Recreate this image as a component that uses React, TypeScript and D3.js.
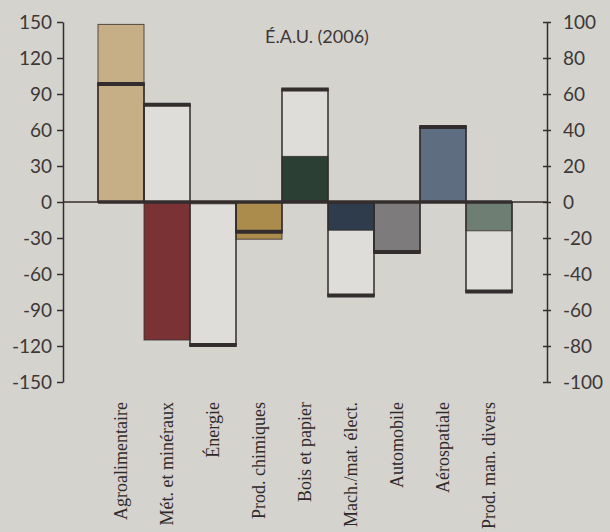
import React, { useRef, useEffect } from 'react';
import * as d3 from 'd3';

// Catégories (axe horizontal)
const categories = [
  'Agroalimentaire',
  'Mét. et minéraux',
  'Énergie',
  'Prod. chimiques',
  'Bois et papier',
  'Mach./mat. élect.',
  'Automobile',
  'Aérospatiale',
  'Prod. man. divers',
];

// Barres pleines (axe de gauche)
const filledValues = [148, -115, -1.5, -31, 38, -23.5, -41.5, 62.5, -24];
// Barres contour, trait épais au bout (axe de droite)
const outlineValues = [65.5, 54, -79.5, -16.5, 62.5, -52, -27.8, 41.7, -49.7];

const fillColors = ['#c6ae86', '#7a3234', '#c98686', '#ab8c4c', '#2c3f34', '#2e3c4c', '#7d7b7b', '#5e6d7f', '#6f7e73'];

const leftTicks = d3.range(-150, 151, 30);
const rightTicks = d3.range(-100, 101, 20);

const title = 'É.A.U. (2006)';

const W = 610;
const H = 532;
const INK = '#332d2d';
const BG = '#d5d3ce';
const PAPER = '#dfddd9';

const App: React.FC = () => {
  const leftRef = useRef<SVGGElement>(null);
  const rightRef = useRef<SVGGElement>(null);

  const margin = { top: 22, bottom: 150, left: 63, right: 63 };
  const yLeft = d3.scaleLinear().domain([-150, 150]).range([H - margin.bottom, margin.top]);
  const yRight = d3.scaleLinear().domain([-100, 100]).range([H - margin.bottom, margin.top]);
  const x = d3.scaleBand().domain(categories).range([98, 512]).padding(0);
  const xLeftAxis = margin.left;
  const xRightAxis = W - margin.right;

  useEffect(() => {
    // le tiret simple comme dans l'original, pas le signe moins typographique
    const fmt = (d: d3.NumberValue) => String(d);
    if (leftRef.current) {
      const g = d3.select(leftRef.current);
      g.selectAll('*').remove();
      g.call(d3.axisLeft(yLeft).tickValues(leftTicks).tickFormat(fmt).tickSize(6).tickSizeOuter(0).tickPadding(5));
      g.select('.domain').attr('stroke', INK).attr('stroke-width', 1.5);
      g.selectAll('.tick line').attr('stroke', INK).attr('stroke-width', 1.5);
      g.selectAll('.tick text')
        .attr('fill', '#3d3838')
        .style('font-family', 'Lato, sans-serif')
        .style('font-size', '19px');
    }
    if (rightRef.current) {
      const g = d3.select(rightRef.current);
      g.selectAll('*').remove();
      g.call(d3.axisRight(yRight).tickValues(rightTicks).tickFormat(fmt).tickSize(4).tickSizeOuter(0).tickPadding(12));
      g.select('.domain').attr('stroke', INK).attr('stroke-width', 1.5);
      g.selectAll('.tick line').attr('x1', -4).attr('stroke', INK).attr('stroke-width', 1.5);
      g.selectAll('.tick text')
        .attr('fill', '#3d3838')
        .style('font-family', 'Lato, sans-serif')
        .style('font-size', '19px');
    }
  }, []);

  const bw = x.bandwidth();
  const zero = yLeft(0);

  return (
    <>
      <style>{'body{margin:0}'}</style>
      <svg width={W} height={H} style={{ display: 'block' }}>
        <rect width={W} height={H} fill={BG} />

        {/* fond clair des barres contour */}
        {categories.map((c, i) => {
          const v = yRight(outlineValues[i]);
          return (
            <rect key={'bg' + c} x={x(c)} y={Math.min(v, zero)} width={bw} height={Math.abs(v - zero)} fill={PAPER} />
          );
        })}

        {/* barres pleines */}
        {categories.map((c, i) => {
          const v = yLeft(filledValues[i]);
          return (
            <rect
              key={'f' + c}
              x={x(c)}
              y={Math.min(v, zero)}
              width={bw}
              height={Math.abs(v - zero)}
              fill={fillColors[i]}
              stroke={INK}
              strokeWidth={1}
              strokeOpacity={0.8}
            />
          );
        })}

        {/* contours */}
        {categories.map((c, i) => {
          const v = yRight(outlineValues[i]);
          return (
            <g key={'o' + c}>
              <rect x={x(c)} y={Math.min(v, zero)} width={bw} height={Math.abs(v - zero)} fill="none" stroke={INK} strokeWidth={1.5} />
              <line x1={(x(c) as number) - 0.75} x2={(x(c) as number) + bw + 0.75} y1={v} y2={v} stroke={INK} strokeWidth={4} />
            </g>
          );
        })}

        {/* ligne du zéro */}
        <line x1={xLeftAxis} x2={xRightAxis} y1={zero} y2={zero} stroke={INK} strokeWidth={1.5} />
        <line x1={x.range()[0]} x2={x.range()[1]} y1={zero} y2={zero} stroke={INK} strokeWidth={3.5} />

        <g ref={leftRef} transform={`translate(${xLeftAxis},0)`} />
        <g ref={rightRef} transform={`translate(${xRightAxis},0)`} />

        <text
          x={317}
          y={43}
          textAnchor="middle"
          fill="#3d3838"
          style={{ fontFamily: 'Lato, sans-serif', fontSize: '18px' }}
        >
          {title}
        </text>

        {categories.map((c) => (
          <text
            key={'l' + c}
            transform={`translate(${(x(c) as number) + bw / 2},402) rotate(-90)`}
            textAnchor="end"
            dy="0.35em"
            fill="#2f2a2a"
            style={{ fontFamily: '"Liberation Serif", serif', fontSize: '18px' }}
          >
            {c}
          </text>
        ))}
      </svg>
    </>
  );
};

export default App;
